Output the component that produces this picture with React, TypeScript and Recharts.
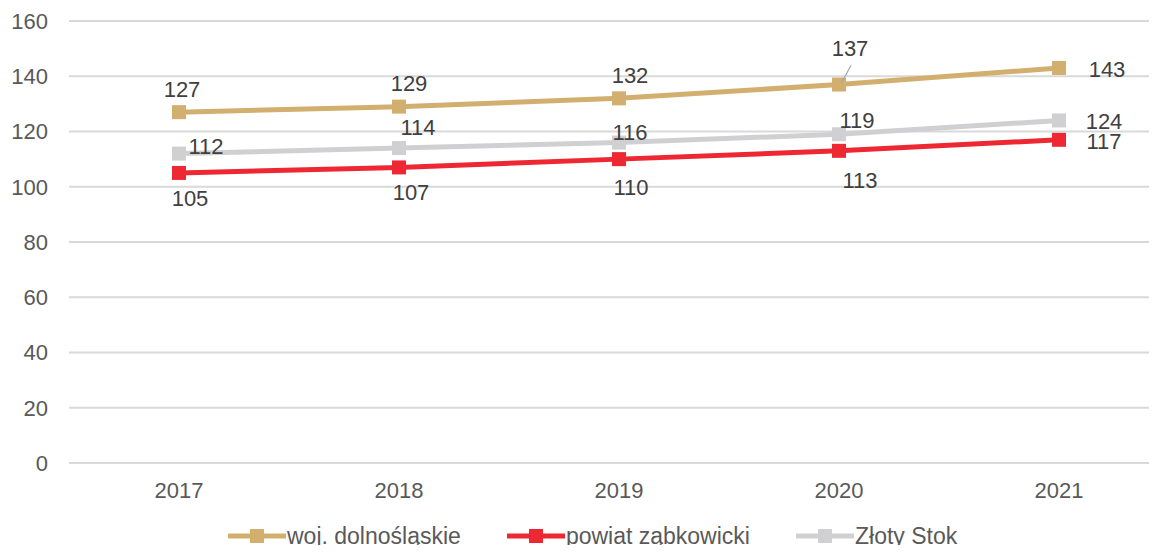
import React from "react";
import { LineChart, Line, XAxis, YAxis, CartesianGrid, Legend } from "recharts";

const years = ["2017", "2018", "2019", "2020", "2021"];
const wojValues = [127, 129, 132, 137, 143];
const powiatValues = [105, 107, 110, 113, 117];
const stokValues = [112, 114, 116, 119, 124];
const yTicks = [0, 20, 40, 60, 80, 100, 120, 140, 160];

const series = [
  { key: "woj", name: "woj. dolnośląskie", color: "#D3AF6F" },
  { key: "powiat", name: "powiat ząbkowicki", color: "#EE2833" },
  { key: "stok", name: "Złoty Stok", color: "#D0D0D2" },
];

const data = years.map((year, i) => ({
  year,
  woj: wojValues[i],
  powiat: powiatValues[i],
  stok: stokValues[i],
}));

// label offsets (text centre relative to the marker), as placed in the source chart
const labelOffsets: Record<string, [number, number][]> = {
  woj: [[3, -23], [10, -23], [11, -23], [11, -36], [48, 1]],
  powiat: [[11, 25], [12, 25], [12, 28], [21, 29], [45, 2]],
  stok: [[27, -7], [19, -21], [11, -10], [18, -14], [45, 1]],
};

const FONT = '"Liberation Sans", Arial, sans-serif';

function SquareDot(props: any) {
  const { cx, cy, stroke, index } = props;
  if (cx == null || cy == null) return null;
  return <rect key={index} x={cx - 7} y={cy - 7} width={14} height={14} fill={stroke} />;
}

function makeLabel(key: string) {
  return (props: any) => {
    const { x, y, value, index } = props;
    const [dx, dy] = labelOffsets[key][index] || [0, -20];
    const leader = key === "woj" && index === 3;
    return (
      <g key={index}>
        {leader && (
          <line x1={x + 12} y1={y - 19} x2={x + 2} y2={y - 1} stroke="#A6A6A6" strokeWidth={1.2} />
        )}
        <text
          x={x + dx}
          y={y + dy}
          dy="0.35em"
          textAnchor="middle"
          fontSize={22}
          fontFamily={FONT}
          fill="#404040"
        >
          {value}
        </text>
      </g>
    );
  };
}

function LegendContent() {
  return (
    <div
      style={{
        height: 45,
        boxSizing: "border-box",
        paddingTop: 11,
        paddingLeft: 228,
        display: "flex",
        gap: 46,
        fontFamily: FONT,
        fontSize: 23,
        lineHeight: "24px",
        color: "#595959",
      }}
    >
      {series.map((s) => (
        <div key={s.key} style={{ display: "flex", alignItems: "center" }}>
          <svg width={58} height={24} style={{ marginRight: 1 }}>
            <line x1={0} y1={12} x2={58} y2={12} stroke={s.color} strokeWidth={5} strokeLinecap="round" />
            <rect x={22} y={5} width={14} height={14} fill={s.color} />
          </svg>
          <span>{s.name}</span>
        </div>
      ))}
    </div>
  );
}

export default function App() {
  return (
    <div style={{ margin: -8, width: 1157, height: 553, overflow: "hidden", background: "#fff" }}>
      <LineChart width={1170} height={553} data={data} margin={{ top: 21, right: 1, left: 0, bottom: 0 }}>
        <CartesianGrid vertical={false} stroke="#D9D9D9" strokeWidth={2} />
        <XAxis
          dataKey="year"
          height={45}
          padding={{ left: 110, right: 110 }}
          axisLine={false}
          tickLine={false}
          tickMargin={13}
          tick={{ fontSize: 22, fill: "#595959", fontFamily: FONT }}
        />
        <YAxis
          width={69}
          domain={[0, 160]}
          ticks={yTicks}
          interval={0}
          axisLine={false}
          tickLine={false}
          tickMargin={15}
          tick={{ fontSize: 22, fill: "#595959", fontFamily: FONT }}
        />
        <Legend
          verticalAlign="bottom"
          content={() => <LegendContent />}
          wrapperStyle={{ left: 0, width: 1170 }}
        />
        {series.map((s) => (
          <Line
            key={s.key}
            dataKey={s.key}
            name={s.name}
            stroke={s.color}
            strokeWidth={5}
            dot={<SquareDot />}
            activeDot={false}
            label={makeLabel(s.key)}
            isAnimationActive={false}
          />
        ))}
      </LineChart>
    </div>
  );
}
